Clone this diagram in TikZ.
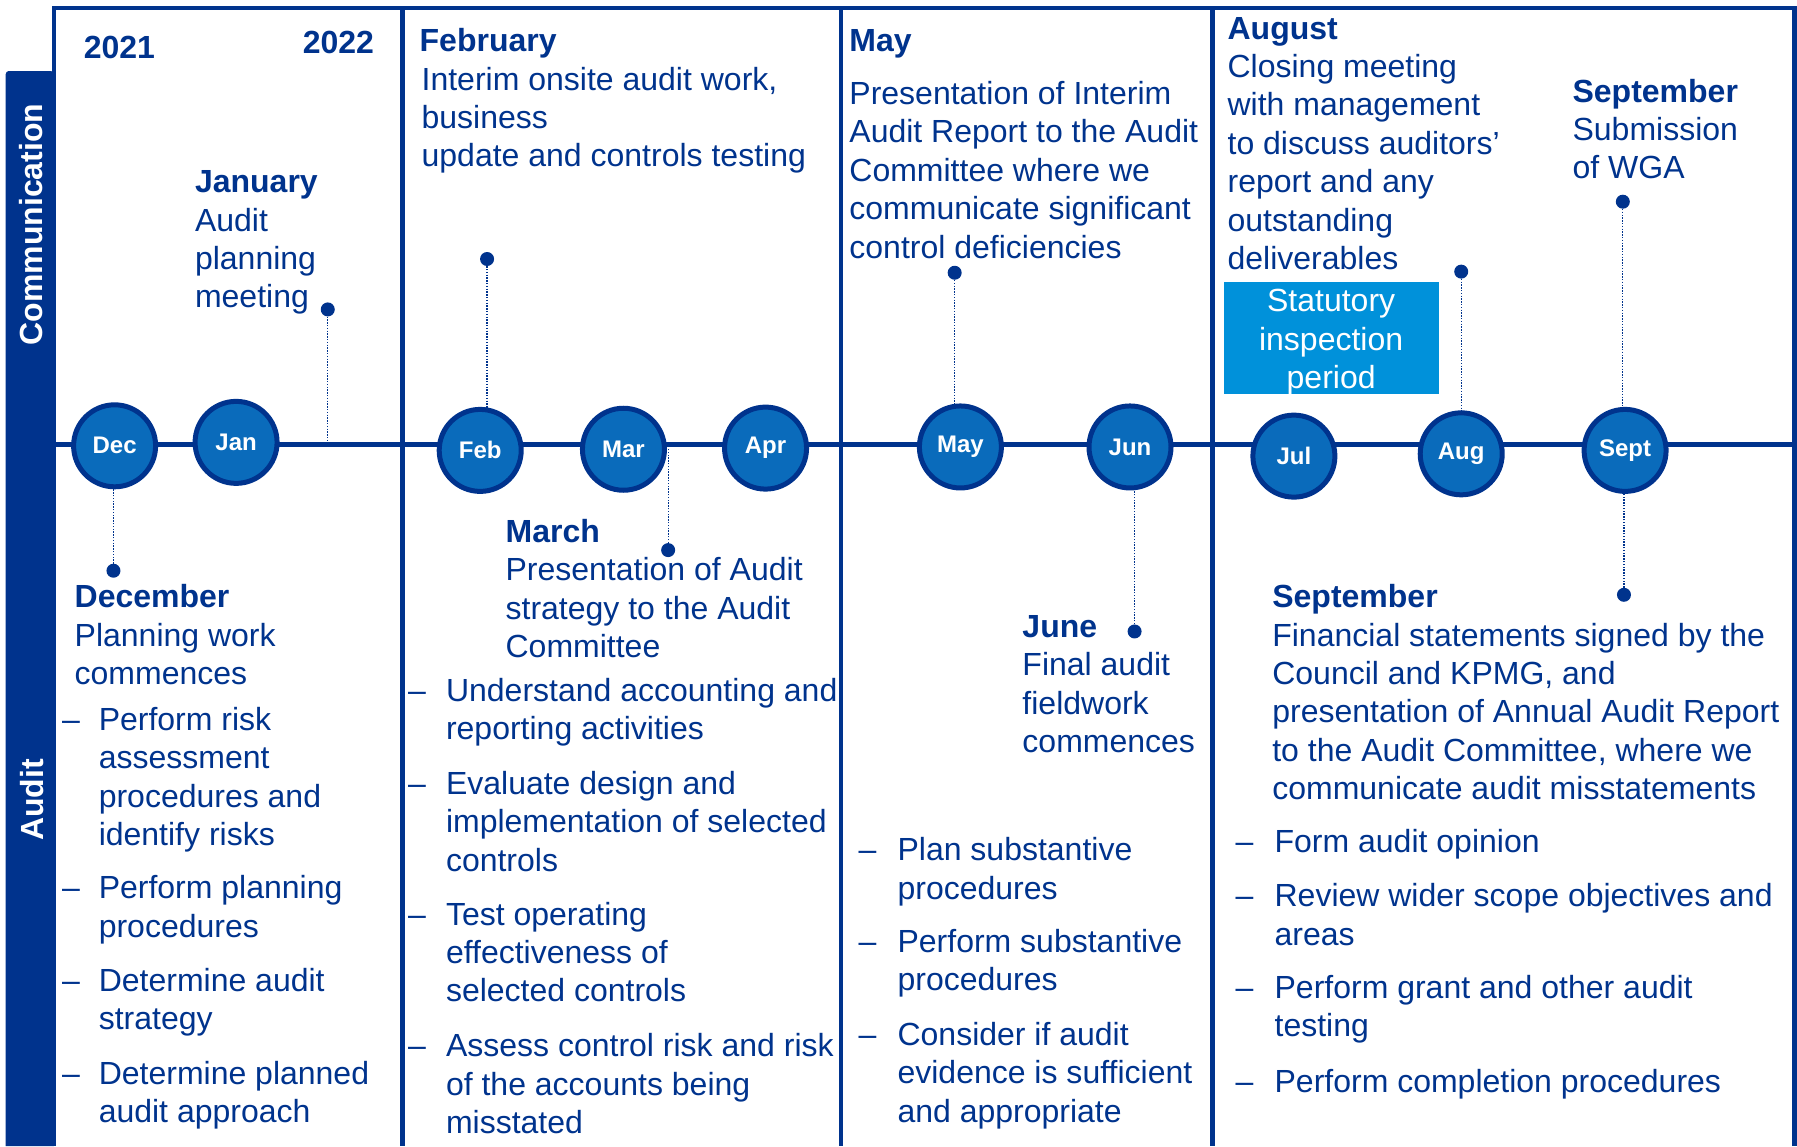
\documentclass[tikz,border=0pt]{standalone}
\usepackage{fontspec}
\setmainfont{Liberation Sans}
\definecolor{kpnavy}{HTML}{00338D}
\definecolor{kpmid}{HTML}{0A6BBB}
\definecolor{kplight}{HTML}{0091DA}
\pgfdeclarelayer{bg}
\pgfsetlayers{bg,main}
\newcommand{\tstrut}{\rule{0pt}{26pt}}
\begin{document}
\begin{tikzpicture}[x=1.146pt,y=-1.146pt,
  txt/.style={inner sep=0pt, anchor=north west, align=left, text=kpnavy,
    font=\fontsize{32}{38.4}\selectfont, yshift=26pt},
  mon/.style={circle, draw=kpnavy, line width=5pt, fill=kpmid, minimum size=82pt,
    inner sep=0pt, text=white, font=\bfseries\fontsize{24}{28}\selectfont},
  dotln/.style={kpnavy, line width=1.3pt, dash pattern=on 1.4pt off 1.4pt},
  pin/.style={circle, fill=kpnavy, inner sep=0pt, minimum size=14pt},
  frame/.style={kpnavy, line width=4.5pt},
  side/.style={text=white, rotate=90, font=\bfseries\fontsize{32}{38}\selectfont}]
\newcommand{\bul}[5]{\node[txt] (#1d) at (#2,#4) {\tstrut–};
  \node[txt] (#1) at (#3,#4) {\tstrut #5};}
\useasboundingbox (0,0) rectangle (1568,1000);
% sidebar
\fill[kpnavy] (5,1000) [rounded corners=3pt] -- (5,62) -- (47,62) [sharp corners] -- (47,1000) -- cycle;
\node[side] (lComm) at (27,196) {Communication};
\node[side] (lAudit) at (28,698) {Audit};
% frame
\draw[frame] (47,1000) -- (47,7) -- (1566,7) -- (1566,1000);
\draw[frame] (351,7) -- (351,1000);
\draw[frame] (734,7) -- (734,1000);
\draw[frame] (1058,7) -- (1058,1000);
\draw[frame] (47,388) -- (1566,388);
% month circles
\node[mon] (cDec) at (100,389) {Dec};
\node[mon] (cJan) at (206,386) {Jan};
\node[mon] (cFeb) at (419,393) {Feb};
\node[mon] (cMar) at (544,392) {Mar};
\node[mon] (cApr) at (668,391) {Apr};
\node[mon] (cMay) at (838,390) {May};
\node[mon] (cJun) at (986,390) {Jun};
\node[mon] (cJul) at (1129,398) {Jul};
\node[mon] (cAug) at (1275,396) {Aug};
\node[mon] (cSep) at (1418,393) {Sept};
% pins
\node[pin] (pJan) at (286,270) {};
\coordinate (eJan) at (286,388);
\node[pin] (pDec) at (99,498) {};
\node[pin] (pFeb) at (425,226) {};
\node[pin] (pMar) at (583,480) {};
\node[pin] (pMay) at (833,238) {};
\node[pin] (pJun) at (990,551) {};
\node[pin] (pAug) at (1275,237) {};
\node[pin] (pSepT) at (1416,176) {};
\node[pin] (pSepB) at (1417,519) {};
\begin{pgfonlayer}{bg}
\draw[dotln] (pJan) -- (eJan);
\draw[dotln] (pDec) -- (pDec |- cDec.center);
\draw[dotln] (pFeb) -- (pFeb |- cFeb.center);
\draw[dotln] (pMar) -- (pMar |- cMar.center);
\draw[dotln] (pMay) -- (pMay |- cMay.center);
\draw[dotln] (pJun) -- (pJun |- cJun.center);
\draw[dotln] (pAug) -- (pAug |- cAug.center);
\draw[dotln] (pSepT) -- (pSepT |- cSep.center);
\draw[dotln] (pSepB) -- (pSepB |- cSep.center);
\end{pgfonlayer}
% panel 1
\node[txt] (y21) at (73,51) {\tstrut\textbf{2021}};
\node[txt] (y22) at (264,46.5) {\tstrut\textbf{2022}};
\node[txt] (tJan) at (170,168) {\tstrut\textbf{January}\\Audit\\planning\\meeting};
\node[txt] (tDec) at (65,530) {\tstrut\textbf{December}\\Planning work\\commences};
\bul{b11}{54}{86}{637}{Perform risk\\assessment\\procedures and\\identify risks}
\bul{b12}{54}{86}{784}{Perform planning\\procedures}
\bul{b13}{54}{86}{865}{Determine audit\\strategy}
\bul{b14}{54}{86}{946}{Determine planned\\audit approach}
% panel 2
\node[txt] (tFeb) at (366,45) {\tstrut\textbf{February}\\\hspace{2pt}Interim onsite audit work,\\\hspace{2pt}business\\\hspace{2pt}update and controls testing};
\node[txt] (tMar) at (441,473) {\tstrut\textbf{March}\\Presentation of Audit\\strategy to the Audit\\Committee};
\bul{b21}{356}{389}{612}{Understand accounting and\\reporting activities}
\bul{b22}{356}{389}{693}{Evaluate design and\\implementation of selected\\controls}
\bul{b23}{356}{389}{807}{Test operating\\effectiveness of\\selected controls}
\bul{b24}{356}{389}{922}{Assess control risk and risk\\of the accounts being\\misstated}
% panel 3
\node[txt] (hMay) at (741,45) {\tstrut\textbf{May}};
\node[txt] (tMay) at (741,91) {\tstrut Presentation of Interim\\Audit Report to the Audit\\Committee where we\\communicate significant\\control deficiencies};
\node[txt] (tJun) at (892,556) {\tstrut\textbf{June}\\Final audit\\fieldwork\\commences};
\bul{b31}{749}{783}{751}{Plan substantive\\procedures}
\bul{b32}{749}{783}{831}{Perform substantive\\procedures}
\bul{b33}{749}{783}{912}{Consider if audit\\evidence is sufficient\\and appropriate}
% panel 4
\node[txt] (tAug) at (1071,34) {\tstrut\textbf{August}\\Closing meeting\\with management\\to discuss auditors’\\report and any\\outstanding\\deliverables};
\node[txt] (tSepT) at (1372,89) {\tstrut\textbf{September}\\Submission\\of WGA};
\node[fill=kplight, inner sep=0pt, minimum width=187*1.146pt, minimum height=98*1.146pt, anchor=north west] (stat) at (1068,246) {};
\node[txt, anchor=north, align=center, text=white] (tStat) at (1161.5,272) {\tstrut Statutory\\inspection\\period};
\node[txt] (tSepB) at (1110,530) {\tstrut\textbf{September}\\Financial statements signed by the\\Council and KPMG, and\\presentation of Annual Audit Report\\to the Audit Committee, where we\\communicate audit misstatements};
\bul{b41}{1078}{1112}{744}{Form audit opinion}
\bul{b42}{1078}{1112}{791}{Review wider scope objectives and\\areas}
\bul{b43}{1078}{1112}{871}{Perform grant and other audit\\testing}
\bul{b44}{1078}{1112}{953}{Perform completion procedures}
\end{tikzpicture}
\end{document}
